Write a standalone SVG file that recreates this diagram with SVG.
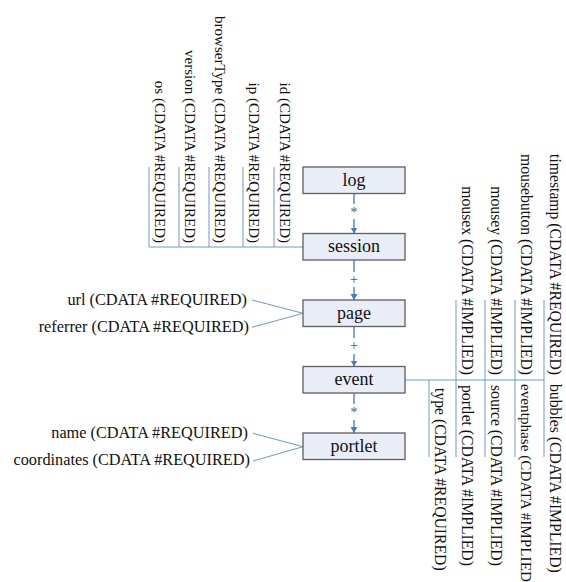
<svg xmlns="http://www.w3.org/2000/svg" width="566" height="582" viewBox="0 0 566 582">
<style>
  text { font-family: 'Liberation Serif', 'DejaVu Serif', serif; }
  .box { fill: #E9EDF7; stroke: #5F5F5F; stroke-width: 1.3; }
  .lbl { font-size: 18px; fill: #111; text-anchor: middle; }
  .attr { font-size: 16.3px; fill: #111; }
  .vattr { font-size: 15px; fill: #111; }
  .rattr { font-size: 15.7px; fill: #111; }
  .card { font-size: 14px; fill: #555; text-anchor: middle; }
  .conn { stroke: #5B87CF; stroke-width: 1.5; fill: none; }
  .aline { stroke: #6E95D6; stroke-width: 1; fill: none; }
</style>
<defs>
  <marker id="arrow" markerUnits="userSpaceOnUse" markerWidth="8" markerHeight="8" refX="6" refY="3.5" orient="auto">
    <path d="M0,0 L6,3.5 L0,7 Z" fill="#4A78C8"/>
  </marker>
</defs>
<rect width="566" height="582" fill="#FFFFFF"/>

<g id="connectors">
  <line class="conn" x1="354" y1="193.5" x2="354" y2="204"/>
  <line class="conn" x1="354" y1="219" x2="354" y2="233.5" marker-end="url(#arrow)"/>
  <line class="conn" x1="354" y1="260" x2="354" y2="272"/>
  <line class="conn" x1="354" y1="287" x2="354" y2="300" marker-end="url(#arrow)"/>
  <line class="conn" x1="354" y1="326.5" x2="354" y2="338"/>
  <line class="conn" x1="354" y1="354" x2="354" y2="366.5" marker-end="url(#arrow)"/>
  <line class="conn" x1="354" y1="393" x2="354" y2="404"/>
  <line class="conn" x1="354" y1="420" x2="354" y2="433" marker-end="url(#arrow)"/>

  <polyline class="aline" points="303,247 149,247"/>
  <line class="aline" x1="149" y1="167" x2="149" y2="247"/>
  <line class="aline" x1="179" y1="167" x2="179" y2="247"/>
  <line class="aline" x1="209" y1="167" x2="209" y2="247"/>
  <line class="aline" x1="243" y1="167" x2="243" y2="247"/>
  <line class="aline" x1="274" y1="167" x2="274" y2="247"/>

  <line class="aline" x1="252" y1="300" x2="303" y2="313.3"/>
  <line class="aline" x1="252" y1="327.3" x2="303" y2="313.3"/>

  <line class="aline" x1="253" y1="433.3" x2="303" y2="446.7"/>
  <line class="aline" x1="253" y1="461" x2="303" y2="446.7"/>

  <line class="aline" x1="405" y1="380" x2="544" y2="380"/>
  <line class="aline" x1="429" y1="380" x2="429" y2="457"/>
  <line class="aline" x1="456" y1="300" x2="456" y2="457"/>
  <line class="aline" x1="485" y1="300" x2="485" y2="457"/>
  <line class="aline" x1="515" y1="300" x2="515" y2="457"/>
  <line class="aline" x1="544" y1="300" x2="544" y2="457"/>

  <text class="card" x="354" y="217">*</text>
  <text class="card" x="354" y="284">+</text>
  <text class="card" x="354" y="350">+</text>
  <text class="card" x="354" y="417">*</text>
</g>

<g id="log">
  <rect class="box" x="303" y="167" width="102" height="26.5"/>
  <text class="lbl" x="354" y="185.5">log</text>
</g>
<g id="session">
  <rect class="box" x="303" y="233.5" width="102" height="26.5"/>
  <text class="lbl" x="354" y="252">session</text>
  <g>
    <text class="vattr" transform="translate(155,243) rotate(90)" text-anchor="end">os (CDATA #REQUIRED)</text>
    <text class="vattr" transform="translate(185,243) rotate(90)" text-anchor="end">version (CDATA #REQUIRED)</text>
    <text class="vattr" transform="translate(215,243) rotate(90)" text-anchor="end">browserType (CDATA #REQUIRED)</text>
    <text class="vattr" transform="translate(249,243) rotate(90)" text-anchor="end">ip (CDATA #REQUIRED)</text>
    <text class="vattr" transform="translate(280,243) rotate(90)" text-anchor="end">id (CDATA #REQUIRED)</text>
  </g>
</g>
<g id="page">
  <rect class="box" x="303" y="300" width="102" height="26.5"/>
  <text class="lbl" x="354" y="318.5">page</text>
  <text class="attr" x="247" y="305" text-anchor="end">url (CDATA #REQUIRED)</text>
  <text class="attr" x="249" y="332" text-anchor="end">referrer (CDATA #REQUIRED)</text>
</g>
<g id="event">
  <rect class="box" x="303" y="366.5" width="102" height="26.5"/>
  <text class="lbl" x="354" y="385">event</text>
  <g>
    <text class="rattr" transform="translate(462,375) rotate(90)" text-anchor="end">mousex (CDATA #IMPLIED)</text>
    <text class="rattr" transform="translate(491,375) rotate(90)" text-anchor="end">mousey (CDATA #IMPLIED)</text>
    <text class="rattr" transform="translate(521,375) rotate(90)" text-anchor="end">mousebutton (CDATA #IMPLIED)</text>
    <text class="rattr" transform="translate(550,375) rotate(90)" text-anchor="end">timestamp (CDATA #REQUIRED)</text>
    <text class="rattr" transform="translate(435,388) rotate(90)">type (CDATA #REQUIRED)</text>
    <text class="rattr" transform="translate(462,385) rotate(90)">portlet (CDATA #IMPLIED)</text>
    <text class="rattr" transform="translate(491,385) rotate(90)">source (CDATA #IMPLIED)</text>
    <text class="rattr" transform="translate(521,384) rotate(90)" style="font-size:15.2px">eventphase (CDATA #IMPLIED)</text>
    <text class="rattr" transform="translate(550,384) rotate(90)">bubbles (CDATA #IMPLIED)</text>
  </g>
</g>
<g id="portlet">
  <rect class="box" x="303" y="433" width="102" height="26.5"/>
  <text class="lbl" x="354" y="451.5">portlet</text>
  <text class="attr" x="248" y="438" text-anchor="end">name (CDATA #REQUIRED)</text>
  <text class="attr" x="250" y="465" text-anchor="end">coordinates (CDATA #REQUIRED)</text>
</g>
</svg>
